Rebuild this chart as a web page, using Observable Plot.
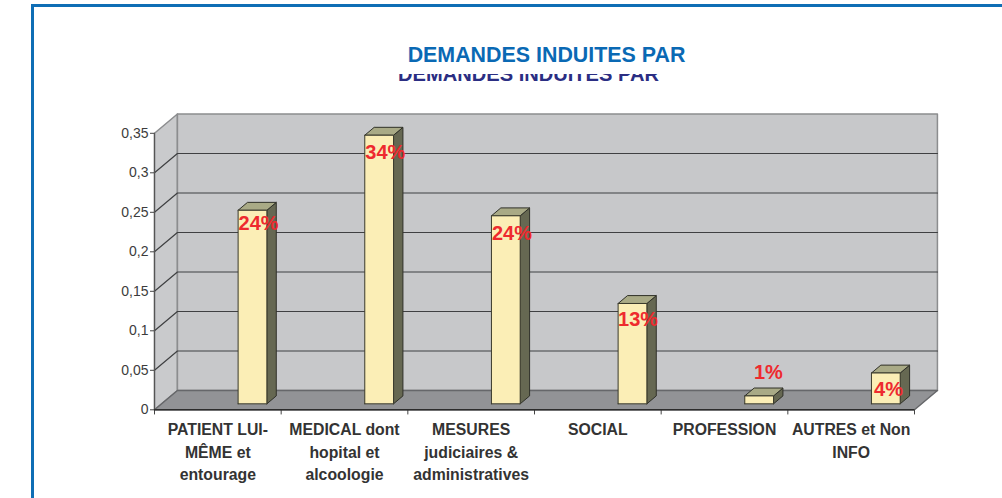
<!DOCTYPE html>
<html lang="fr">
<head>
<meta charset="utf-8">
<script src="https://cdn.jsdelivr.net/npm/d3@7"></script>
<script src="https://cdn.jsdelivr.net/npm/@observablehq/plot@0.6"></script>
<style>
  html, body { margin:0; padding:0; background:#fff; width:1002px; height:498px; overflow:hidden; font-family:"Liberation Sans",Arial,sans-serif; }
  #frame { position:absolute; left:31px; top:4px; width:1100px; height:600px; border:3px solid #0f6eb5; box-sizing:border-box; }
  #title { position:absolute; left:346.5px; width:400px; top:46px; text-align:center; font-size:21.4px; font-weight:bold; color:#0a69b4; line-height:18px; white-space:nowrap; }
  #clip { position:absolute; left:328.5px; width:400px; top:74px; height:8px; overflow:hidden; }
  #clip div { position:absolute; left:0; width:400px; top:-10px; text-align:center; font-size:20.1px; font-weight:bold; color:#2b2e83; line-height:20px; white-space:nowrap; }
  #chart { position:absolute; left:0; top:0; }
</style>
</head>
<body>
<div id="frame"></div>
<div id="chart"></div>
<div id="title">DEMANDES INDUITES PAR</div>
<div id="clip"><div>DEMANDES INDUITES PAR</div></div>
<script>
const categories = ["PATIENT LUI-\nMÊME et\nentourage", "MEDICAL dont\nhopital et\nalcoologie", "MESURES\njudiciaires &\nadministratives", "SOCIAL", "PROFESSION", "AUTRES et Non\nINFO"];
const values = [0.245, 0.34, 0.238, 0.127, 0.01, 0.039];
const percentLabels = ["24%", "34%", "24%", "13%", "1%", "4%"];
const yTicks = [0, 0.05, 0.1, 0.15, 0.2, 0.25, 0.3, 0.35];

// Oblique projection of the pseudo-3D box, in data units
const depthX = 0.181, depthY = 0.0244;
const at = (u, v, d = 0) => ({x: u + d * depthX, y: v + d * depthY});
const n = categories.length, top_ = 0.35;
const poly = (pts) => [...pts, pts[0]];

const sideWall = poly([at(0,0,0), at(0,top_,0), at(0,top_,1), at(0,0,1)]);
const backWall = poly([at(0,0,1), at(0,top_,1), at(n,top_,1), at(n,0,1)]);
const floor = poly([at(0,0,0), at(n,0,0), at(n,0,1), at(0,0,1)]);
const gridLines = yTicks.slice(1, -1).flatMap((t) =>
  [at(0,t,0), at(0,t,1), at(n,t,1)].map((p) => ({...p, t})));

// Bars sit at a fixed offset inside each category slot and inside the depth
const barStart = 0.604, barWidth = 0.227, d0 = 0.31, d1 = 0.72;
const faces = (fn) => values.flatMap((v, i) => fn(v, i).map((p) => ({...p, i})));
const barFront = faces((v, i) => poly([at(i+barStart,0,d0), at(i+barStart,v,d0), at(i+barStart+barWidth,v,d0), at(i+barStart+barWidth,0,d0)]));
const barTop = faces((v, i) => poly([at(i+barStart,v,d0), at(i+barStart,v,d1), at(i+barStart+barWidth,v,d1), at(i+barStart+barWidth,v,d0)]));
const barSide = faces((v, i) => poly([at(i+barStart+barWidth,0,d0), at(i+barStart+barWidth,v,d0), at(i+barStart+barWidth,v,d1), at(i+barStart+barWidth,0,d1)]));

// Label anchors relative to the value (the chart's labels are hand-placed)
const labelShiftY = [-0.009, -0.0144, -0.015, -0.013, 0.037, -0.013];
const labelShiftX = [0.822, 0.822, 0.822, 0.818, 0.847, 0.795];
const labelRows = values.map((v, i) => ({x: i + labelShiftX[i], y: v + labelShiftY[i], label: percentLabels[i]}));

const font = "Liberation Sans, Arial, sans-serif";
const plot = Plot.plot({
  width: 1002, height: 498,
  marginLeft: 154, marginRight: 88, marginTop: 132.8, marginBottom: 88.7,
  style: {background: "transparent", fontFamily: font, overflow: "visible"},
  x: {domain: [0, n]},
  y: {domain: [0, top_]},
  marks: [
    Plot.line(sideWall, {x:"x", y:"y", fill:"#c9cacc", stroke:"#8c8d8f", strokeWidth:1.5}),
    Plot.line(backWall, {x:"x", y:"y", fill:"#c7c8ca", stroke:"#8c8d8f", strokeWidth:1.5}),
    Plot.line(gridLines, {x:"x", y:"y", z:"t", stroke:"#3f4042", strokeWidth:1.2}),
    Plot.line(floor, {x:"x", y:"y", fill:"#929396", stroke:"#66676a", strokeWidth:1.5}),
    Plot.ruleX([0], {y1:0, y2:top_, stroke:"#555", strokeWidth:1.2}),
    Plot.ruleX(d3.range(0, n + 1), {y1:0, y2:-0.0065, stroke:"#444", strokeWidth:1}),
    Plot.ruleY([0], {x1:0, x2:n, stroke:"#2c2c2c", strokeWidth:1.6}),
    Plot.line(barSide, {x:"x", y:"y", z:"i", fill:"#666852", stroke:"#2f3028", strokeWidth:1}),
    Plot.line(barTop, {x:"x", y:"y", z:"i", fill:"#a9aa86", stroke:"#2f3028", strokeWidth:1}),
    Plot.line(barFront, {x:"x", y:"y", z:"i", fill:"#fbeeb6", stroke:"#3a3a2c", strokeWidth:1}),
    Plot.axisY({ticks: yTicks, label:null, tickSize:4, tickPadding:2, fontSize:14, tickFormat:(d)=>String(d).replace(".", ","), stroke:"#444", fill:"#3c3c3c"}),
    Plot.axisX({ticks: categories.map((_, i) => i + 0.5), label:null, tickSize:0, tickPadding:9, fontSize:15.8, fontWeight:"bold", lineHeight:1.434, fill:"#333", tickFormat:(d)=>categories[Math.floor(d)]}),
    Plot.text(labelRows, {x:"x", y:"y", text:"label", fill:"#ee2a2e", fontSize:20, fontWeight:"bold"})
  ]
});
document.getElementById("chart").append(plot);
</script>
</body>
</html>
